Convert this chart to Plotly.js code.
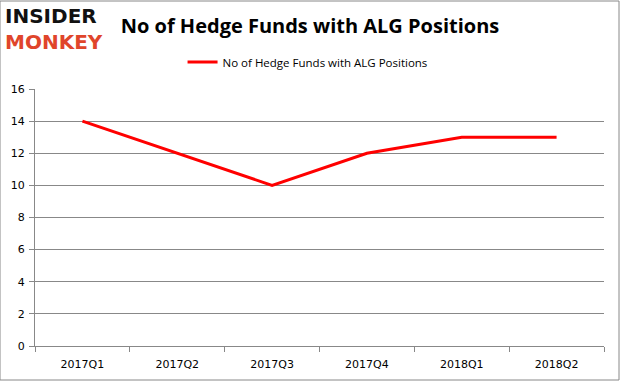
<!DOCTYPE html>
<html><head><meta charset="utf-8">
<script src="https://cdn.plot.ly/plotly-3.0.1.min.js"></script>
<style>html,body{margin:0;padding:0;background:#fff}#c{width:620px;height:381px}</style>
</head><body><div id="c"></div>
<script>
var categories = ["2017Q1","2017Q2","2017Q3","2017Q4","2018Q1","2018Q2"];
var funds = [14, 12, 10, 12, 13, 13];
var seriesName = "No of Hedge Funds with ALG Positions";
var yTicks = [0,2,4,6,8,10,12,14,16];

var trace = {x: categories, y: funds, type: "scatter", mode: "lines", name: seriesName,
  line: {color: "#ff0000", width: 3}};
var layout = {
  width: 620, height: 381,
  margin: {l: 35, r: 16, t: 89, b: 35},
  paper_bgcolor: "#fff", plot_bgcolor: "#fff",
  font: {family: "DejaVu Sans, Verdana, sans-serif", size: 11, color: "#000"},
  title: {text: "<b>No of Hedge Funds with ALG Positions</b>", x: 0.5, xanchor: "center", y: 0.932, yanchor: "middle",
    font: {family: "Open Sans, sans-serif", size: 20, color: "#000"}},
  showlegend: true,
  legend: {orientation: "h", x: 0.479, xanchor: "center", y: 1.105, yanchor: "middle",
    font: {family: "Open Sans, sans-serif", size: 11.5, color: "#000"}, itemwidth: 30},
  xaxis: {type: "category", range: [-0.5, 5.5], showgrid: false, showline: true, linecolor: "#888", linewidth: 1,
    ticks: "outside", tickson: "boundaries", ticklen: 5, tickcolor: "#888", tickfont: {size: 11},
    ticklabelstandoff: 8},
  yaxis: {range: [0, 16], tickvals: yTicks, showgrid: true, gridcolor: "#888", gridwidth: 1,
    showline: true, linecolor: "#888", linewidth: 1, ticks: "outside", ticklen: 5, tickcolor: "#888",
    zeroline: false, tickfont: {size: 11}, ticklabelstandoff: 2},
  shapes: [{type: "rect", xref: "paper", yref: "paper", x0: -35/569, x1: 1 + 15/569, y0: -34/257, y1: 1 + 88/257,
    line: {color: "#888", width: 1}, fillcolor: "rgba(0,0,0,0)"}],
  annotations: [
    {xref: "paper", yref: "paper", x: -32/569, y: 1 + 87/257, xanchor: "left", yanchor: "top", showarrow: false,
     align: "left",
     text: "<b>INSIDER</b><br><b><span style='color:#e0452b'>MONKEY</span></b>",
     font: {family: "DejaVu Sans, sans-serif", size: 20, color: "#111"}}
  ]
};
Plotly.newPlot("c", [trace], layout, {displayModeBar: false, staticPlot: true});
</script></body></html>
